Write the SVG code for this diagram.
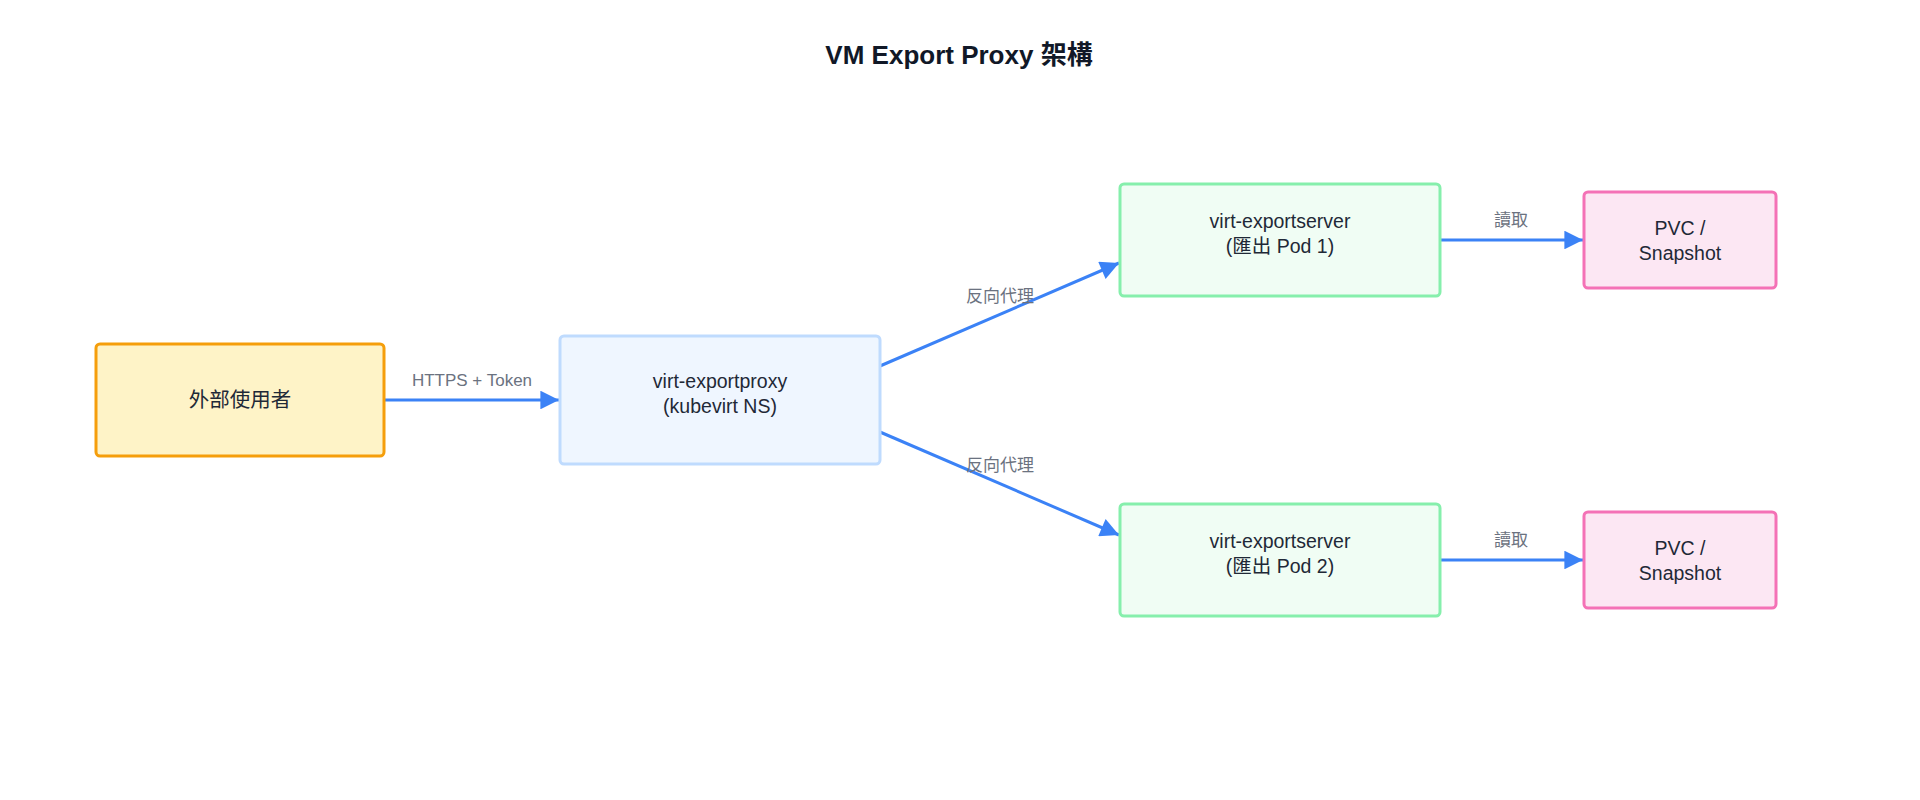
<svg xmlns="http://www.w3.org/2000/svg" width="1920" height="800" viewBox="0 0 1920 800">
<style>
text{font-family:"Liberation Sans","Noto Sans CJK TC",sans-serif}
.t{font-size:26px;font-weight:bold;fill:#111827;text-anchor:middle}
.n{font-size:19.5px;fill:#1f2937;text-anchor:middle}
.c{font-size:20.5px}
.l{font-size:17px;fill:#6b7280;text-anchor:middle}
.e{stroke:#3b82f6;stroke-width:3;fill:none;marker-end:url(#a)}
rect{stroke-width:3}
</style>
<defs>
<marker id="a" viewBox="0 0 10 10" refX="10" refY="5" markerWidth="9.4" markerHeight="6.2" markerUnits="strokeWidth" orient="auto">
<path d="M0,0L10,5L0,10z" fill="#3b82f6"/>
</marker>
</defs>
<rect width="1920" height="800" fill="#ffffff" style="stroke:none"/>
<text class="t" x="959" y="64">VM Export Proxy 架構</text>
<g id="connectors">
<line class="e" x1="384" y1="400" x2="559" y2="400"/>
<line class="e" x1="880" y1="366" x2="1119" y2="263"/>
<line class="e" x1="880" y1="432" x2="1119" y2="535"/>
<line class="e" x1="1440" y1="240" x2="1583" y2="240"/>
<line class="e" x1="1440" y1="560" x2="1583" y2="560"/>
<text class="l" x="472" y="386">HTTPS + Token</text>
<text class="l" x="1000" y="302">反向代理</text>
<text class="l" x="1000" y="471">反向代理</text>
<text class="l" x="1511" y="226">讀取</text>
<text class="l" x="1511" y="546">讀取</text>
</g>
<g id="user">
<rect x="96" y="344" width="288" height="112" rx="4" fill="#fef3c7" stroke="#f59e0b"/>
<text class="n c" x="240" y="407">外部使用者</text>
</g>
<g id="proxy">
<rect x="560" y="336" width="320" height="128" rx="4" fill="#eff6ff" stroke="#bfdbfe"/>
<text class="n" x="720" y="388">virt-exportproxy</text>
<text class="n" x="720" y="413">(kubevirt NS)</text>
</g>
<g id="server1">
<rect x="1120" y="184" width="320" height="112" rx="4" fill="#f0fdf4" stroke="#86efac"/>
<text class="n" x="1280" y="228">virt-exportserver</text>
<text class="n" x="1280" y="253">(匯出 Pod 1)</text>
</g>
<g id="server2">
<rect x="1120" y="504" width="320" height="112" rx="4" fill="#f0fdf4" stroke="#86efac"/>
<text class="n" x="1280" y="548">virt-exportserver</text>
<text class="n" x="1280" y="573">(匯出 Pod 2)</text>
</g>
<g id="pvc1">
<rect x="1584" y="192" width="192" height="96" rx="4" fill="#fce7f3" stroke="#f472b6"/>
<text class="n" x="1680" y="235">PVC /</text>
<text class="n" x="1680" y="260">Snapshot</text>
</g>
<g id="pvc2">
<rect x="1584" y="512" width="192" height="96" rx="4" fill="#fce7f3" stroke="#f472b6"/>
<text class="n" x="1680" y="555">PVC /</text>
<text class="n" x="1680" y="580">Snapshot</text>
</g>
</svg>
